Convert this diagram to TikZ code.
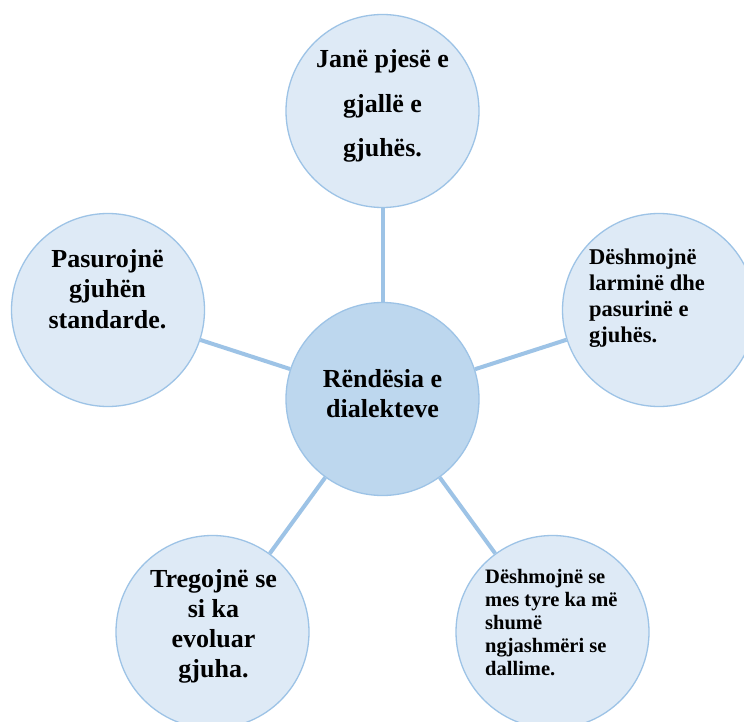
\documentclass[tikz,border=0pt]{standalone}
\usepackage{fontspec}
\setmainfont{Liberation Serif}
\definecolor{satfill}{HTML}{DEEAF6}
\definecolor{cenfill}{HTML}{BDD7EE}
\definecolor{edge}{HTML}{9DC3E6}
\begin{document}
\begin{tikzpicture}[x=1pt,y=-1pt,
  sat/.style={circle,draw=edge,line width=1.3pt,fill=satfill,minimum size=193pt,inner sep=0pt},
  hub/.style={sat,fill=cenfill},
  link/.style={draw=edge,line width=4pt},
  lbl/.style={inner sep=0pt,font=\bfseries}]
\useasboundingbox (0,0) rectangle (744,722);
\fill[white] (0,0) rectangle (744,722);
\clip (0,0) rectangle (744,722);
\node[hub] (c) at (382.5,399) {};
\node[sat] (t) at (382.5,111) {};
\node[sat] (r) at (659,310) {};
\node[sat] (br) at (552.5,632) {};
\node[sat] (bl) at (212.5,632) {};
\node[sat] (l) at (108,310) {};
\draw[link] (c) -- (t);
\draw[link] (c) -- (r);
\draw[link] (c) -- (br);
\draw[link] (c) -- (bl);
\draw[link] (c) -- (l);
\node[lbl,anchor=base,align=center,font=\bfseries\fontsize{26}{30}\selectfont] (ct) at (382.5,417) {Rëndësia e\\dialekteve};
\node[lbl,anchor=base,align=center,font=\bfseries\fontsize{26}{44.5}\selectfont] (tt) at (382.5,157) {Janë pjesë e\\gjallë e\\gjuhës.};
\node[lbl,anchor=base west,align=left,font=\bfseries\fontsize{22.5}{26}\selectfont] (rt) at (589,342) {Dëshmojnë\\larminë dhe\\pasurinë e\\gjuhës.};
\node[lbl,anchor=base west,align=left,font=\bfseries\fontsize{20.5}{23}\selectfont] (brt) at (485,675) {Dëshmojnë se\\mes tyre ka më\\shumë\\ngjashmëri se\\dallime.};
\node[lbl,anchor=base,align=center,font=\bfseries\fontsize{26}{30}\selectfont] (blt) at (213.5,677) {Tregojnë se\\si ka\\evoluar\\gjuha.};
\node[lbl,anchor=base,align=center,font=\bfseries\fontsize{26}{30.5}\selectfont] (lt) at (107.5,328) {Pasurojnë\\gjuhën\\standarde.};
\end{tikzpicture}
\end{document}
